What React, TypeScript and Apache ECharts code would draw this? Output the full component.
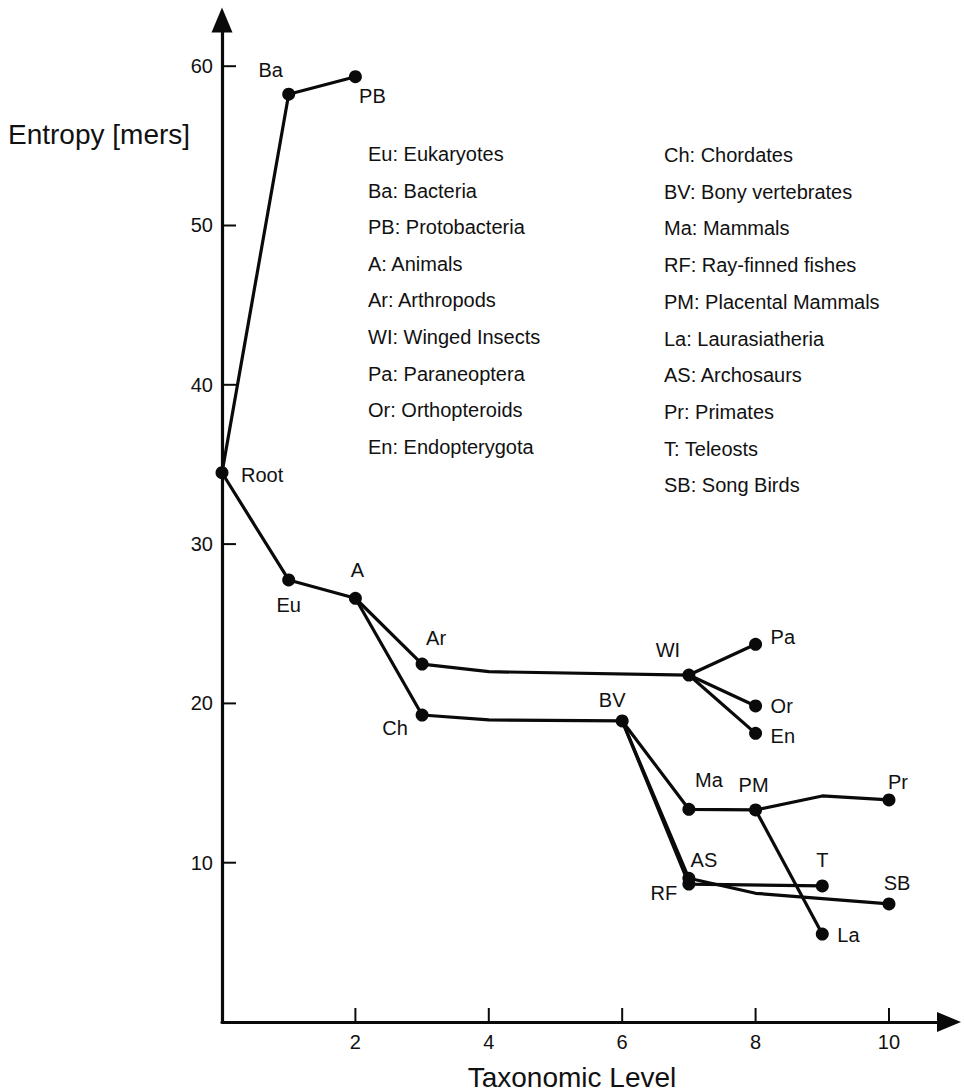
import React, { useEffect, useRef } from "react";
import * as echarts from "echarts";

// ---- data ----
const nodeNames = ["Root", "Ba", "PB", "Eu", "A", "Ar", "Ch", "WI", "Pa", "Or", "En", "BV", "Ma", "PM", "Pr", "La", "AS", "RF", "T", "SB"];
const nodeLevel = [0, 1, 2, 1, 2, 3, 3, 7, 8, 8, 8, 6, 7, 8, 10, 9, 7, 7, 9, 10];
const nodeEntropy = [34.48, 58.24, 59.34, 27.75, 26.6, 22.47, 19.27, 21.78, 23.71, 19.84, 18.12, 18.9, 13.35, 13.31, 13.94, 5.52, 9.02, 8.66, 8.54, 7.41];

// bends in the drawn branches (not nodes)
const bendNames = ["Ar~", "Ch~", "Pr~", "SB~"];
const bendLevel = [4, 4, 9, 8];
const bendEntropy = [21.99, 18.96, 14.19, 8.08];

const branches = [
  ["Root", "Ba", "PB"],
  ["Root", "Eu", "A"],
  ["A", "Ar", "Ar~", "WI"],
  ["WI", "Pa"],
  ["WI", "Or"],
  ["WI", "En"],
  ["A", "Ch", "Ch~", "BV"],
  ["BV", "Ma", "PM", "Pr~", "Pr"],
  ["PM", "La"],
  ["BV", "AS", "SB~", "SB"],
  ["BV", "RF", "T"],
];

const legendLeft = [
  "Eu: Eukaryotes",
  "Ba: Bacteria",
  "PB: Protobacteria",
  "A: Animals",
  "Ar: Arthropods",
  "WI: Winged Insects",
  "Pa: Paraneoptera",
  "Or: Orthopteroids",
  "En: Endopterygota",
];
const legendRight = [
  "Ch: Chordates",
  "BV: Bony vertebrates",
  "Ma: Mammals",
  "RF: Ray-finned fishes",
  "PM: Placental Mammals",
  "La: Laurasiatheria",
  "AS: Archosaurs",
  "Pr: Primates",
  "T: Teleosts",
  "SB: Song Birds",
];

const xTicks = [2, 4, 6, 8, 10];
const yTicks = [10, 20, 30, 40, 50, 60];
const xTitle = "Taxonomic Level";
const yTitle = "Entropy [mers]";

// ---- styling ----
const FONT = "'Liberation Sans', Arial, Helvetica, sans-serif";
const INK = "#0a0a0a";
const TEXT = "#111";
const TICK_LEN = 14;

// label placement: [dx, dy, align]
const labelPlace: Record<string, [number, number, string]> = {
  Root: [19, 2, "left"],
  Ba: [-18, -24, "center"],
  PB: [17, 19, "center"],
  Eu: [0, 25, "center"],
  A: [2, -28, "center"],
  Ar: [14, -26, "center"],
  Ch: [-27, 13, "center"],
  BV: [-10, -21, "center"],
  WI: [-21, -25, "center"],
  Pa: [15, -7, "left"],
  Or: [15, 0, "left"],
  En: [15, 3, "left"],
  Ma: [20, -29, "center"],
  PM: [-2, -25, "center"],
  Pr: [9, -18, "center"],
  AS: [15, -18, "center"],
  RF: [-25, 9, "center"],
  T: [0, -26, "center"],
  SB: [8, -21, "center"],
  La: [15, 1, "left"],
};

function coordOf(name: string): [number, number] {
  const i = nodeNames.indexOf(name);
  if (i >= 0) return [nodeLevel[i], nodeEntropy[i]];
  const j = bendNames.indexOf(name);
  return [bendLevel[j], bendEntropy[j]];
}

export default function App() {
  const ref = useRef<HTMLDivElement>(null);
  useEffect(() => {
    if (!ref.current) return;
    const chart = echarts.init(ref.current, undefined, { renderer: "svg" });

    const lineSeries = branches.map((b) => ({
      type: "line",
      data: b.map((n) => coordOf(n)),
      symbol: "none",
      lineStyle: { color: INK, width: 3.2, opacity: 1 },
      silent: true,
      z: 2,
    }));

    const nodeSeries = {
      type: "scatter",
      symbol: "circle",
      symbolSize: 13,
      itemStyle: { color: INK, opacity: 1 },
      z: 3,
      data: nodeNames.map((n, i) => {
        const p = labelPlace[n];
        return {
          name: n,
          value: [nodeLevel[i], nodeEntropy[i]],
          label: {
            show: true,
            formatter: n,
            position: "inside",
            offset: [p[0], p[1]],
            align: p[2],
            verticalAlign: "middle",
            fontSize: 20,
            fontFamily: FONT,
            color: TEXT,
            opacity: 1,
            textBorderWidth: 0,
          },
        };
      }),
    };

    // inward tick marks, placed through the axes' scales
    const xTickSeries = {
      type: "custom",
      silent: true,
      clip: false,
      z: 1,
      data: xTicks.map((v) => [v, 0]),
      renderItem: (_p: any, api: any) => {
        const c = api.coord([api.value(0), 0]);
        return {
          type: "line",
          shape: { x1: c[0], y1: c[1], x2: c[0], y2: c[1] - TICK_LEN },
          style: { stroke: INK, lineWidth: 2 },
        };
      },
    };
    const yTickSeries = {
      type: "custom",
      silent: true,
      clip: false,
      z: 1,
      data: yTicks.map((v) => [0, v]),
      renderItem: (_p: any, api: any) => {
        const c = api.coord([0, api.value(1)]);
        return {
          type: "line",
          shape: { x1: c[0], y1: c[1], x2: c[0] + TICK_LEN, y2: c[1] },
          style: { stroke: INK, lineWidth: 2 },
        };
      },
    };

    const graphics: any[] = [];
    legendLeft.forEach((t, i) => {
      graphics.push({
        type: "text",
        x: 368,
        y: 154 + i * 36.6,
        style: { text: t, fontSize: 20, fontFamily: FONT, fill: TEXT, align: "left", verticalAlign: "middle" },
      });
    });
    legendRight.forEach((t, i) => {
      graphics.push({
        type: "text",
        x: 664,
        y: 155 + i * 36.7,
        style: { text: t, fontSize: 20, fontFamily: FONT, fill: TEXT, align: "left", verticalAlign: "middle" },
      });
    });
    graphics.push({
      type: "text",
      x: 8,
      y: 134,
      style: { text: yTitle, fontSize: 28, fontFamily: FONT, fill: TEXT, align: "left", verticalAlign: "middle" },
    });
    graphics.push({
      type: "text",
      x: 572,
      y: 1077,
      style: { text: xTitle, fontSize: 28, fontFamily: FONT, fill: TEXT, align: "center", verticalAlign: "middle" },
    });

    const lineStyle = { color: INK, width: 3.2 };

    chart.setOption({
      animation: false,
      backgroundColor: "#fff",
      grid: { left: 222, right: 15, top: 20, bottom: 70, containLabel: false, outerBoundsMode: "none" },
      xAxis: {
        type: "value",
        min: 0,
        max: 10.9,
        interval: 2,
        axisLine: { show: true, onZero: false, lineStyle, symbol: ["none", "triangle"], symbolSize: [20, 24] },
        axisTick: { show: false },
        splitLine: { show: false },
        axisLabel: {
          customValues: xTicks,
          margin: 10,
          fontSize: 20,
          fontFamily: FONT,
          color: TEXT,
        },
      },
      yAxis: {
        type: "value",
        min: 0,
        max: 62.9,
        interval: 10,
        axisLine: { show: true, onZero: false, lineStyle, symbol: ["none", "triangle"], symbolSize: [21, 25] },
        axisTick: { show: false },
        splitLine: { show: false },
        axisLabel: {
          customValues: yTicks,
          margin: 9,
          fontSize: 20,
          fontFamily: FONT,
          color: TEXT,
        },
      },
      series: [...lineSeries, nodeSeries, xTickSeries, yTickSeries],
      graphic: graphics,
    } as any);

    return () => chart.dispose();
  }, []);

  return <div ref={ref} style={{ position: "absolute", left: 0, top: 0, width: 964, height: 1092 }} />;
}
